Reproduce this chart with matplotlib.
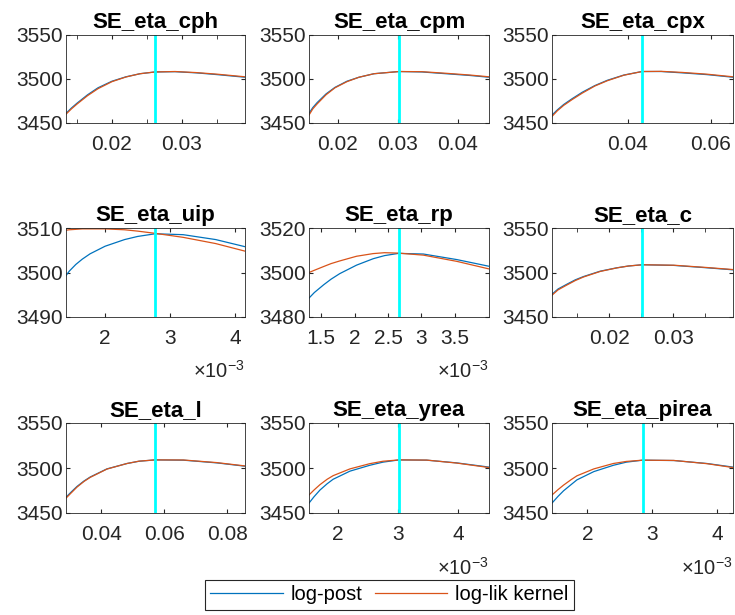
import numpy as np
import matplotlib
matplotlib.use('Agg')
import matplotlib.pyplot as plt
from matplotlib.ticker import FixedLocator, FuncFormatter

plt.rcParams['font.family'] = ['Liberation Sans', 'DejaVu Sans']
plt.rcParams['mathtext.fontset'] = 'custom'
plt.rcParams['mathtext.rm'] = 'Liberation Sans'
plt.rcParams['mathtext.it'] = 'Liberation Sans'

titles = ['SE_eta_cph', 'SE_eta_cpm', 'SE_eta_cpx',
          'SE_eta_uip', 'SE_eta_rp', 'SE_eta_c',
          'SE_eta_l', 'SE_eta_yrea', 'SE_eta_pirea']

# parameter grids
x_cph = [0.01343, 0.0142, 0.0150, 0.0165, 0.0180, 0.0200, 0.0220, 0.0240, 0.02614, 0.0290, 0.0320, 0.0350, 0.0390]
x_cpm = [0.01517, 0.0158, 0.0165, 0.0180, 0.0195, 0.0215, 0.0235, 0.0260, 0.0302, 0.0340, 0.0380, 0.0420, 0.04517]
x_cpx = [0.02169, 0.0230, 0.0245, 0.0265, 0.0290, 0.0320, 0.0350, 0.0390, 0.04337, 0.0480, 0.0530, 0.0590, 0.0653]
x_uip = [0.00140, 0.00145, 0.00155, 0.00165, 0.00177, 0.00200, 0.00230, 0.00250, 0.00277, 0.00320, 0.00370, 0.00415]
x_rp = [0.00132, 0.00140, 0.00154, 0.00165, 0.00178, 0.00203, 0.00228, 0.00245, 0.00266, 0.00303, 0.00353, 0.00401]
x_c = [0.01105, 0.0120, 0.01339, 0.0147, 0.01599, 0.01859, 0.0212, 0.0230, 0.02516, 0.03005, 0.03526, 0.03933]
x_l = [0.0288, 0.0305, 0.0323, 0.0345, 0.0365, 0.0418, 0.0482, 0.0520, 0.0571, 0.0661, 0.0767, 0.0857]
x_yrea = [0.001517, 0.00160, 0.00170, 0.00182, 0.00192, 0.00220, 0.00253, 0.00275, 0.00302, 0.00348, 0.00398, 0.00452]
x_pirea = [0.001457, 0.00155, 0.001635, 0.00175, 0.00184, 0.00210, 0.00240, 0.00260, 0.00285, 0.00333, 0.00384, 0.00424]

# log-post
post_cph = [3461, 3467, 3472.5, 3482, 3490, 3497.5, 3502.5, 3506, 3508, 3508.3, 3507, 3505, 3502]
post_cpm = [3461, 3467.5, 3473, 3483, 3490.5, 3497.5, 3502, 3506, 3508.5, 3508, 3506, 3504, 3502]
post_cpx = [3459, 3465, 3471, 3477.5, 3485, 3492.5, 3498.5, 3504.5, 3508.5, 3508.5, 3507, 3505, 3502]
post_uip = [3499.3, 3500.3, 3501.8, 3503.0, 3504.2, 3505.9, 3507.4, 3508.1, 3508.7, 3508.5, 3507.4, 3505.8]
post_rp = [3488.5, 3491.0, 3494.5, 3497.0, 3499.5, 3503.3, 3506.2, 3507.6, 3508.6, 3508.3, 3505.8, 3502.8]
post_c = [3475.6, 3481.5, 3486.9, 3491.8, 3495.5, 3501.5, 3505.3, 3507.3, 3508.7, 3508.0, 3505.3, 3503.0]
post_l = [3467.5, 3473.5, 3479.5, 3485.5, 3490.0, 3499.0, 3505.0, 3507.5, 3509.0, 3508.7, 3505.7, 3502.0]
post_yrea = [3461.0, 3468.0, 3475.5, 3482.5, 3487.5, 3496.5, 3503.0, 3506.5, 3509.0, 3508.7, 3505.7, 3501.0]
post_pirea = [3461.0, 3468.5, 3474.7, 3481.5, 3486.8, 3496.0, 3503.0, 3506.5, 3508.7, 3508.3, 3505.0, 3501.0]

# log-lik kernel
lik_cph = [3460, 3466, 3471.5, 3481, 3489, 3497, 3502.3, 3506, 3508, 3508.5, 3507.3, 3505.5, 3502.5]
lik_cpm = [3459, 3466, 3471.5, 3482, 3490, 3497, 3502, 3506, 3508.5, 3508.3, 3506.5, 3504.5, 3502.5]
lik_cpx = [3457.5, 3464, 3470, 3476.5, 3484, 3492, 3498, 3504.3, 3508.5, 3508.7, 3507.5, 3505.5, 3502.5]
lik_uip = [3509.5, 3509.6, 3509.7, 3509.8, 3509.8, 3509.8, 3509.6, 3509.3, 3508.8, 3507.9, 3506.5, 3504.8]
lik_rp = [3500.0, 3501.0, 3502.7, 3504.0, 3505.2, 3507.3, 3508.5, 3508.9, 3508.7, 3507.8, 3505.0, 3501.6]
lik_c = [3474.5, 3480.5, 3486.0, 3491.0, 3495.0, 3501.2, 3505.2, 3507.3, 3508.7, 3508.2, 3505.6, 3503.3]
lik_l = [3466.5, 3472.5, 3478.8, 3485.0, 3489.6, 3498.8, 3505.0, 3507.6, 3509.0, 3508.9, 3506.0, 3502.3]
lik_yrea = [3470.0, 3475.5, 3481.5, 3487.5, 3491.5, 3499.0, 3504.8, 3507.5, 3509.0, 3508.8, 3505.5, 3500.5]
lik_pirea = [3470.0, 3476.0, 3481.0, 3487.0, 3491.3, 3499.0, 3505.0, 3507.3, 3508.7, 3508.4, 3504.8, 3500.5]

modes = [0.02614, 0.0302, 0.04337, 0.00277, 0.00266, 0.02516, 0.0571, 0.00302, 0.00285]

xlims = [(0.01343, 0.0390), (0.01517, 0.04517), (0.02169, 0.0653),
         (0.00140, 0.00415), (0.00132, 0.00401), (0.01105, 0.03933),
         (0.0288, 0.0857), (0.001517, 0.00452), (0.001457, 0.00424)]
ylims = [(3450, 3550), (3450, 3550), (3450, 3550),
         (3490, 3510), (3480, 3520), (3450, 3550),
         (3450, 3550), (3450, 3550), (3450, 3550)]
yticks = [[3450, 3500, 3550]] * 3 + [[3490, 3500, 3510], [3480, 3500, 3520], [3450, 3500, 3550]] + [[3450, 3500, 3550]] * 3
xticks = [[0.02, 0.03], [0.02, 0.03, 0.04], [0.04, 0.06],
          [0.002, 0.003, 0.004], [0.0015, 0.002, 0.0025, 0.003, 0.0035], [0.02, 0.03],
          [0.04, 0.06, 0.08], [0.002, 0.003, 0.004], [0.002, 0.003, 0.004]]
xminor = [[0.015, 0.025, 0.035], [], [], [], [], [0.015, 0.025, 0.035], [], [], []]
scaled = [False, False, False, True, True, False, False, True, True]

xs = [x_cph, x_cpm, x_cpx, x_uip, x_rp, x_c, x_l, x_yrea, x_pirea]
posts = [post_cph, post_cpm, post_cpx, post_uip, post_rp, post_c, post_l, post_yrea, post_pirea]
liks = [lik_cph, lik_cpm, lik_cpx, lik_uip, lik_rp, lik_c, lik_l, lik_yrea, lik_pirea]

blue = '#0072BD'
red = '#D95319'

fig = plt.figure(figsize=(7.35, 6.15), dpi=100)
lefts = [66, 309, 552]
widths = [179, 180, 181]
tops = [35, 228, 423]
heights = [88, 89, 90]

for i in range(9):
    r, c = divmod(i, 3)
    ax = fig.add_axes([lefts[c] / 735, (615 - tops[r] - heights[r]) / 615,
                       widths[c] / 735, heights[r] / 615])
    l1, = ax.plot(xs[i], posts[i], color=blue, lw=0.9)
    l2, = ax.plot(xs[i], liks[i], color=red, lw=0.9)
    ax.axvline(modes[i], color='cyan', lw=2)
    ax.set_xlim(xlims[i])
    ax.set_ylim(ylims[i])
    ax.set_yticks(yticks[i])
    ax.xaxis.set_major_locator(FixedLocator(xticks[i]))
    ax.xaxis.set_minor_locator(FixedLocator(xminor[i]))
    if scaled[i]:
        ax.xaxis.set_major_formatter(FuncFormatter(lambda v, p: ('%g' % round(v * 1000, 4))))
        ax.text(1.0, -0.73, r'$\times10^{-3}$', transform=ax.transAxes,
                ha='right', va='bottom', fontsize=14.5, color='#262626')
    else:
        ax.xaxis.set_major_formatter(FuncFormatter(lambda v, p: ('%g' % v)))
    ax.tick_params(which='both', direction='in', top=True, right=True,
                   labelsize=15, colors='#262626')
    ax.tick_params(which='major', length=3)
    ax.tick_params(which='minor', length=3)
    ax.tick_params(axis='x', pad=9)
    ax.tick_params(axis='y', pad=2)
    for s in ax.spines.values():
        s.set_color('#262626')
        s.set_linewidth(0.6)
    ax.set_title(titles[i], fontsize=16, fontweight='bold', pad=5)

leg = fig.legend([l1, l2], ['log-post', 'log-lik kernel'], loc='center',
                 bbox_to_anchor=(389.5 / 735, 1 - 595 / 615), ncol=2,
                 fontsize=14.5, handlelength=3.6, columnspacing=0.6,
                 handletextpad=0.4, borderpad=0.25, fancybox=False,
                 edgecolor='#262626', framealpha=1)
leg.get_frame().set_linewidth(0.8)

fig.savefig('out.png', dpi=100)
